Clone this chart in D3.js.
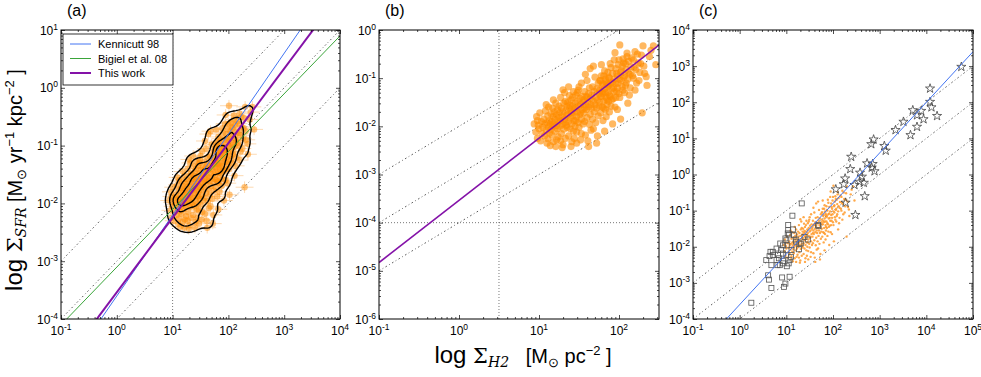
<!DOCTYPE html>
<html>
<head>
<meta charset="utf-8">
<script src="https://d3js.org/d3.v7.min.js"></script>
<style>
  body { margin: 0; background: #fff; }
  text { font-family: "Liberation Sans", Arial, sans-serif; fill: #000; }
</style>
</head>
<body>
<div id="chart"></div>
<script>
var W = 981, H = 377,
    plotTop = 30, plotBottom = 319;

////////////////////////////////////////////////////////////
//////////////////////// Data //////////////////////////////
////////////////////////////////////////////////////////////

// resolved regions: [log Sigma_H2 (Msun/pc2), log Sigma_SFR (Msun/yr/kpc2)]
var regionsLog = [
  [0.94,-1.95],[0.96,-2.12],[0.97,-1.80],[0.98,-2.25],[0.99,-1.98],[1.00,-2.05],[1.01,-1.72],[1.02,-2.30],[1.03,-1.90],[1.04,-2.15],[1.05,-2.02],[0.98,-1.88],
  [1.06,-1.85],[1.07,-2.20],[1.07,-1.95],[1.08,-1.68],[1.09,-2.08],[1.10,-1.92],[1.10,-2.35],[1.11,-1.78],[1.12,-2.02],[1.12,-1.60],[1.13,-2.14],[1.13,-1.88],[1.14,-2.40],[1.14,-1.96],[1.15,-1.74],[1.15,-2.06],[1.09,-1.55],[1.11,-2.26],
  [1.16,-1.90],[1.16,-2.18],[1.17,-1.62],[1.17,-2.00],[1.18,-1.80],[1.18,-2.32],[1.19,-1.95],[1.19,-1.70],[1.20,-2.10],[1.20,-1.85],[1.21,-2.42],[1.21,-1.52],[1.22,-1.98],[1.22,-1.76],[1.23,-2.05],[1.23,-1.66],[1.24,-1.90],[1.24,-2.22],[1.25,-1.82],[1.25,-1.58],[1.18,-1.45],[1.22,-2.28],
  [1.26,-2.00],[1.26,-1.72],[1.27,-1.88],[1.27,-1.40],[1.28,-2.15],[1.28,-1.62],[1.29,-1.95],[1.29,-1.80],[1.30,-2.38],[1.30,-1.70],[1.31,-1.52],[1.31,-2.06],[1.32,-1.85],[1.32,-1.30],[1.33,-1.92],[1.33,-2.25],[1.34,-1.66],[1.34,-1.78],[1.35,-2.02],[1.35,-1.58],[1.27,-2.30],[1.30,-1.24],[1.33,-1.48],[1.29,-2.44],[1.34,-1.98],
  [1.36,-1.75],[1.36,-1.50],[1.37,-1.90],[1.37,-2.20],[1.38,-1.62],[1.38,-1.36],[1.39,-1.82],[1.39,-2.05],[1.40,-1.70],[1.40,-1.45],[1.41,-1.95],[1.41,-2.32],[1.42,-1.58],[1.42,-1.78],[1.43,-1.28],[1.43,-2.10],[1.44,-1.66],[1.44,-1.88],[1.45,-1.52],[1.45,-2.00],[1.37,-1.18],[1.40,-2.42],[1.42,-1.40],[1.44,-2.25],[1.39,-1.56],[1.41,-1.72],
  [1.46,-1.62],[1.46,-1.35],[1.47,-1.80],[1.47,-2.12],[1.48,-1.48],[1.48,-1.70],[1.49,-1.92],[1.49,-1.25],[1.50,-1.58],[1.50,-2.02],[1.51,-1.42],[1.51,-1.76],[1.52,-2.28],[1.52,-1.55],[1.53,-1.10],[1.53,-1.85],[1.54,-1.65],[1.54,-1.38],[1.55,-1.95],[1.55,-1.50],[1.47,-2.35],[1.50,-1.18],[1.52,-1.72],[1.48,-1.30],[1.53,-2.15],[1.46,-1.88],
  [1.56,-1.45],[1.56,-1.72],[1.57,-1.28],[1.57,-1.90],[1.58,-1.55],[1.58,-2.18],[1.59,-1.38],[1.59,-1.65],[1.60,-1.05],[1.60,-1.82],[1.61,-1.50],[1.61,-2.30],[1.62,-1.32],[1.62,-1.60],[1.63,-1.96],[1.63,-1.20],[1.64,-1.75],[1.64,-1.42],[1.65,-2.08],[1.65,-1.55],[1.58,-0.92],[1.60,-1.40],[1.62,-2.42],[1.57,-1.62],[1.64,-0.80],
  [1.66,-1.35],[1.66,-1.62],[1.67,-1.18],[1.67,-1.85],[1.68,-1.48],[1.68,-2.05],[1.69,-1.28],[1.69,-1.70],[1.70,-0.98],[1.70,-1.55],[1.71,-1.40],[1.71,-1.92],[1.72,-1.22],[1.72,-1.62],[1.73,-2.20],[1.73,-1.45],[1.74,-1.10],[1.74,-1.78],[1.75,-1.32],[1.75,-1.58],[1.68,-0.75],[1.72,-2.35],
  [1.76,-1.25],[1.76,-1.50],[1.77,-1.05],[1.77,-1.72],[1.78,-1.38],[1.78,-0.72],[1.79,-1.60],[1.79,-1.15],[1.80,-1.88],[1.80,-1.32],[1.81,-0.95],[1.81,-1.48],[1.82,-2.10],[1.82,-1.22],[1.83,-1.65],[1.83,-1.02],[1.84,-1.40],[1.84,-1.80],[1.85,-1.12],[1.85,-1.55],
  [1.86,-1.30],[1.86,-0.88],[1.87,-1.48],[1.87,-1.15],[1.88,-1.70],[1.88,-1.00],[1.89,-1.38],[1.90,-0.78],[1.90,-1.58],[1.91,-1.22],[1.92,-1.95],[1.92,-1.08],[1.93,-1.42],[1.94,-0.62],[1.94,-1.28],[1.95,-0.47],
  [1.96,-1.12],[1.96,-1.40],[1.97,-0.90],[1.98,-1.65],[1.98,-1.20],[1.99,-0.72],[2.00,-1.32],[2.01,-0.31],[2.01,-1.02],[2.02,-1.85],[2.03,-0.85],[2.04,-1.18],[2.05,-0.60],
  [2.06,-0.98],[2.07,-1.30],[2.08,-0.70],[2.09,-1.10],[2.10,-0.55],[2.11,-1.52],[2.12,-0.88],[2.14,-1.20],[2.15,-0.76],
  [2.17,-0.95],[2.18,-0.62],[2.20,-1.25],[2.21,-0.82],[2.23,-0.50],[2.25,-1.05],
  [2.27,-0.70],[2.29,-1.72],[2.30,-0.33],[2.32,-0.90],[2.34,-0.97],[2.38,-0.55],[2.43,-0.33],[2.46,-0.72],
  [1.76,-1.05],[1.77,-1.38],[1.78,-0.95],[1.79,-1.28],[1.80,-1.12],[1.81,-1.62],[1.82,-0.85],[1.83,-1.30],[1.84,-1.08],[1.85,-1.45],
  [1.86,-1.18],[1.87,-0.98],[1.88,-1.35],[1.89,-0.70],[1.90,-1.10],[1.91,-1.45],[1.92,-0.90],[1.93,-1.20],[1.94,-1.02],[1.95,-1.60],
  [1.96,-0.80],[1.97,-1.28],[1.98,-0.95],[1.99,-1.10],[2.00,-0.62],[2.01,-1.40],[2.02,-0.88],[2.03,-1.05],[2.04,-0.75],[2.05,-1.25],
  [2.06,-0.68],[2.07,-0.95],[2.08,-1.15],[2.09,-0.82],[2.10,-0.48],[2.11,-1.02],[2.12,-0.65],[2.13,-1.35],[2.14,-0.92],[2.16,-0.58],
  [2.18,-1.00],[2.19,-0.78],[2.20,-0.45],[2.22,-1.10],[2.24,-0.68],[2.26,-0.88],[2.28,-0.52],[2.31,-0.75],[2.35,-1.15],[2.40,-0.42]
];

// typical uncertainties (dex) for the error bars of panel (a)
var errLogH2 = 0.16, errLogSFR = 0.1;

// other galaxies (panel c), open squares
var squaresLog = [
  [1.33,-0.80],[1.13,-1.14],[1.04,-1.54],[1.06,-1.66],[0.98,-1.77],[1.21,-1.86],[1.28,-1.91],[1.68,-1.40],[1.39,-1.73],
  [0.93,-1.96],[0.89,-2.09],[0.71,-2.14],[0.82,-2.23],[1.00,-2.23],[1.11,-2.09],[1.07,-2.37],[0.93,-2.39],[0.79,-2.37],
  [0.64,-2.26],[0.57,-2.37],[0.68,-2.51],[0.86,-2.51],[1.01,-2.54],[0.61,-2.79],[0.63,-2.91],[0.91,-2.85],[1.07,-2.83],
  [0.98,-3.02],[0.95,-3.11],[0.68,-3.14],[0.25,-3.55],[1.02,-1.96],[1.20,-1.80],[1.31,-1.91],[1.69,-1.43],[1.16,-1.68],
  [1.14,-1.52],[1.04,-1.40],[1.03,-1.63],[0.87,-1.91],[0.79,-2.05],[0.66,-2.14],[0.71,-2.23],[0.84,-2.32],[0.93,-2.19],
  [1.10,-2.28],[1.05,-2.46],[0.93,-2.46],[0.81,-2.51],[1.00,-1.82],[1.46,-1.80],[1.27,-2.07]
];

// starbursts (panel c), open stars
var starsLog = [
  [4.75,2.98],[4.08,2.38],[4.08,2.01],[4.11,1.86],[4.23,1.62],[3.71,1.78],[3.89,1.76],[3.80,1.64],[3.94,1.53],
  [3.80,1.32],[3.66,1.09],[3.51,1.46],[3.34,1.23],[2.87,0.97],[2.82,0.84],[3.10,0.79],[3.13,0.66],[2.73,0.31],
  [2.85,0.29],[2.83,0.19],[2.89,0.09],[2.58,0.05],[2.62,-0.06],[2.57,-0.20],[2.66,-0.23],[2.68,-0.60],[2.39,0.49],
  [2.37,0.15],[2.26,-0.11],[2.23,-0.27],[2.46,-0.29],[2.06,-0.41],[2.27,-0.78],[2.48,-1.12]
];

// Sigma_SFR = coef * Sigma_H2^slope
var relations = [
  {name: "Kennicutt 98",      coef: 2.5e-4, slope: 1.4,  color: "#4274f2", width: 1},
  {name: "Bigiel et al. 08",  coef: 7.9e-4, slope: 1.0,  color: "#3aa53a", width: 1},
  {name: "This work",         coef: 2.9e-4, slope: 1.29, color: "#8412a8", width: 2}
];
// constant depletion time lines: Sigma_SFR = coef * Sigma_H2  (1e8, 1e9, 1e10 yr)
var depletionCoef = [1e-2, 1e-3, 1e-4];
// reference cuts in panel (b)
var cutH2 = 3.16, cutSFR = 1e-4;

////////////////////////////////////////////////////////////
//////////////////////// Layout ////////////////////////////
////////////////////////////////////////////////////////////

var panels = [
  {name: "(a)", left: 61,  right: 340, xDomain: [1e-1, 1e4],   yDomain: [1e-4, 1e1]},
  {name: "(b)", left: 379, right: 659, xDomain: [1e-1, 316.2], yDomain: [1e-6, 1e0]},
  {name: "(c)", left: 693, right: 973, xDomain: [1e-1, 1e5],   yDomain: [1e-4, 1e4]}
];
panels.forEach(function(p) {
  p.x = d3.scaleLog().domain(p.xDomain).range([p.left, p.right]);
  p.y = d3.scaleLog().domain(p.yDomain).range([plotBottom, plotTop]);
});

var orange = "#ff8c00";

var svg = d3.select("#chart").append("svg")
  .attr("width", W)
  .attr("height", H);

var defs = svg.append("defs");
panels.forEach(function(p, i) {
  defs.append("clipPath").attr("id", "clip" + i)
    .append("rect")
    .attr("x", p.left).attr("y", plotTop)
    .attr("width", p.right - p.left).attr("height", plotBottom - plotTop);
});

function decades(dom) {
  var out = [];
  for (var e = Math.ceil(Math.log10(dom[0]) - 1e-9); e <= Math.floor(Math.log10(dom[1]) + 1e-9); e++) out.push(Math.pow(10, e));
  return out;
}
function minors(dom) {
  var out = [];
  for (var e = Math.floor(Math.log10(dom[0])); e <= Math.ceil(Math.log10(dom[1])); e++)
    for (var k = 2; k < 10; k++) {
      var v = k * Math.pow(10, e);
      if (v > dom[0] && v < dom[1]) out.push(v);
    }
  return out;
}

function powerLine(p, coef, slope) {
  var pts = p.xDomain.map(function(x) { return [x, coef * Math.pow(x, slope)]; });
  return d3.line().x(function(d) { return p.x(d[0]); }).y(function(d) { return p.y(d[1]); })(pts);
}

function pow10(v) { return Math.pow(10, v); }

////////////////////////////////////////////////////////////
/////////////////////// Panels /////////////////////////////
////////////////////////////////////////////////////////////

panels.forEach(function(p, i) {
  var g = svg.append("g").attr("class", "panel");
  var plot = g.append("g").attr("clip-path", "url(#clip" + i + ")");

  // depletion time lines
  depletionCoef.forEach(function(c) {
    plot.append("path")
      .attr("d", powerLine(p, c, 1))
      .attr("fill", "none")
      .attr("stroke", "#444")
      .attr("stroke-width", 0.9)
      .attr("stroke-dasharray", "1.6,2.6,0.8,2.6");
  });

  if (i === 0) {
    plot.append("line")
      .attr("x1", p.x(10)).attr("x2", p.x(10))
      .attr("y1", plotTop).attr("y2", plotBottom)
      .attr("stroke", "#555").attr("stroke-width", 0.8).attr("stroke-dasharray", "1,2");

    // error bars
    var eb = plot.append("g").attr("stroke", "#fdb86a").attr("stroke-width", 1).attr("opacity", 0.5);
    eb.selectAll("line.ex").data(regionsLog).enter().append("line")
      .attr("x1", function(d) { return p.x(pow10(d[0] - errLogH2)); })
      .attr("x2", function(d) { return p.x(pow10(d[0] + errLogH2)); })
      .attr("y1", function(d) { return p.y(pow10(d[1])); })
      .attr("y2", function(d) { return p.y(pow10(d[1])); });
    eb.selectAll("line.ey").data(regionsLog).enter().append("line")
      .attr("x1", function(d) { return p.x(pow10(d[0])); })
      .attr("x2", function(d) { return p.x(pow10(d[0])); })
      .attr("y1", function(d) { return p.y(pow10(d[1] - errLogSFR)); })
      .attr("y2", function(d) { return p.y(pow10(d[1] + errLogSFR)); });

    plot.append("g").selectAll("circle").data(regionsLog).enter().append("circle")
      .attr("cx", function(d) { return p.x(pow10(d[0])); })
      .attr("cy", function(d) { return p.y(pow10(d[1])); })
      .attr("r", 3.2)
      .attr("fill", orange)
      .attr("opacity", 0.5);

    // density contours
    var density = d3.contourDensity()
      .x(function(d) { return p.x(pow10(d[0])); })
      .y(function(d) { return p.y(pow10(d[1])); })
      .size([W, H])
      .cellSize(3)
      .bandwidth(3.5);
    var maxV = d3.max(density.thresholds(60)(regionsLog), function(c) { return c.value; });
    var contours = density.thresholds([0.15, 0.4, 0.62, 0.84].map(function(f) { return f * maxV; }))(regionsLog);
    plot.append("g").selectAll("path").data(contours).enter().append("path")
      .attr("d", d3.geoPath())
      .attr("fill", "none")
      .attr("stroke", "#000")
      .attr("stroke-width", 1.4)
      .attr("stroke-linejoin", "round");

    relations.forEach(function(r) {
      plot.append("path")
        .attr("d", powerLine(p, r.coef, r.slope))
        .attr("fill", "none")
        .attr("stroke", r.color)
        .attr("stroke-width", r.width);
    });

    // legend
    var lg = g.append("g").attr("transform", "translate(" + (p.left + 2) + "," + (plotTop + 4) + ")");
    lg.append("rect").attr("width", 110).attr("height", 51)
      .attr("fill", "#fff").attr("stroke", "#000").attr("stroke-width", 0.8);
    relations.forEach(function(r, k) {
      var yy = 10 + k * 14.5;
      lg.append("line").attr("x1", 7).attr("x2", 28).attr("y1", yy).attr("y2", yy)
        .attr("stroke", r.color).attr("stroke-width", r.width);
      lg.append("text").attr("x", 35).attr("y", yy + 4).attr("font-size", 11).text(r.name);
    });
  }

  if (i === 1) {
    plot.append("line")
      .attr("x1", p.x(cutH2)).attr("x2", p.x(cutH2))
      .attr("y1", plotTop).attr("y2", plotBottom)
      .attr("stroke", "#555").attr("stroke-width", 0.8).attr("stroke-dasharray", "1,2");
    plot.append("line")
      .attr("x1", p.left).attr("x2", p.right)
      .attr("y1", p.y(cutSFR)).attr("y2", p.y(cutSFR))
      .attr("stroke", "#555").attr("stroke-width", 0.8).attr("stroke-dasharray", "1,2");

    plot.append("g").selectAll("circle").data(regionsLog).enter().append("circle")
      .attr("cx", function(d) { return p.x(pow10(d[0])); })
      .attr("cy", function(d) { return p.y(pow10(d[1])); })
      .attr("r", 3.6)
      .attr("fill", orange)
      .attr("opacity", 0.62);

    plot.append("path")
      .attr("d", powerLine(p, relations[2].coef, relations[2].slope))
      .attr("fill", "none")
      .attr("stroke", relations[2].color)
      .attr("stroke-width", 1.6);
  }

  if (i === 2) {
    plot.append("g").selectAll("circle").data(regionsLog).enter().append("circle")
      .attr("cx", function(d) { return p.x(pow10(d[0])); })
      .attr("cy", function(d) { return p.y(pow10(d[1])); })
      .attr("r", 1.2)
      .attr("fill", "#ff9a2a")
      .attr("opacity", 0.85);

    plot.append("g").selectAll("rect").data(squaresLog).enter().append("rect")
      .attr("x", function(d) { return p.x(pow10(d[0])) - 2.5; })
      .attr("y", function(d) { return p.y(pow10(d[1])) - 2.5; })
      .attr("width", 5).attr("height", 5)
      .attr("fill", "none")
      .attr("stroke", "#555")
      .attr("stroke-width", 0.8);

    var star = d3.symbol().type(d3.symbolStar).size(26);
    plot.append("g").selectAll("path").data(starsLog).enter().append("path")
      .attr("d", star)
      .attr("transform", function(d) { return "translate(" + p.x(pow10(d[0])) + "," + p.y(pow10(d[1])) + ")"; })
      .attr("fill", "none")
      .attr("stroke", "#444")
      .attr("stroke-width", 0.8);

    plot.append("path")
      .attr("d", powerLine(p, relations[0].coef, relations[0].slope))
      .attr("fill", "none")
      .attr("stroke", relations[0].color)
      .attr("stroke-width", 1);
  }

  // ticks on all four sides, pointing inwards
  function ticks(axisGen, scale, tr, values, size) {
    g.append("g").attr("transform", tr)
      .call(axisGen(scale).tickValues(values).tickSize(-size).tickFormat(""))
      .call(function(s) { s.select(".domain").remove(); s.selectAll("line").attr("stroke", "#000").attr("stroke-width", 0.7); });
  }
  [[decades(p.xDomain), 4], [minors(p.xDomain), 2]].forEach(function(t) {
    ticks(d3.axisBottom, p.x, "translate(0," + plotBottom + ")", t[0], t[1]);
    ticks(d3.axisTop, p.x, "translate(0," + plotTop + ")", t[0], t[1]);
  });
  [[decades(p.yDomain), 4], [minors(p.yDomain), 2]].forEach(function(t) {
    ticks(d3.axisLeft, p.y, "translate(" + p.left + ",0)", t[0], t[1]);
    ticks(d3.axisRight, p.y, "translate(" + p.right + ",0)", t[0], t[1]);
  });

  g.append("rect")
    .attr("x", p.left).attr("y", plotTop)
    .attr("width", p.right - p.left).attr("height", plotBottom - plotTop)
    .attr("fill", "none").attr("stroke", "#000").attr("stroke-width", 1);

  // tick labels 10^n
  decades(p.xDomain).forEach(function(v) {
    var t = g.append("text").attr("x", p.x(v)).attr("y", 335)
      .attr("text-anchor", "middle").attr("font-size", 12);
    t.append("tspan").text("10");
    t.append("tspan").attr("dy", -5).attr("font-size", 8.5).text(Math.round(Math.log10(v)));
  });
  decades(p.yDomain).forEach(function(v) {
    var t = g.append("text").attr("x", p.left - 3).attr("y", p.y(v) + 4.5)
      .attr("text-anchor", "end").attr("font-size", 12);
    t.append("tspan").text("10");
    t.append("tspan").attr("dy", -5).attr("font-size", 8.5).text(Math.round(Math.log10(v)));
  });

  g.append("text")
    .attr("x", p.left + 6).attr("y", 16)
    .attr("font-size", 16)
    .text(p.name);
});

////////////////////////////////////////////////////////////
//////////////////////// Labels ////////////////////////////
////////////////////////////////////////////////////////////

var serif = "'DejaVu Serif', 'Liberation Serif', serif";

var xl = svg.append("text")
  .attr("x", 523).attr("y", 363)
  .attr("text-anchor", "middle");
xl.append("tspan").attr("font-size", 24).text("log ");
xl.append("tspan").attr("font-size", 21).attr("font-family", serif).text("Σ");
xl.append("tspan").attr("font-size", 14).attr("font-family", serif).attr("font-style", "italic").attr("dy", 4).text("H2");
xl.append("tspan").attr("font-size", 20).attr("dy", -4).attr("xml:space", "preserve").text("   [M");
xl.append("tspan").attr("font-size", 13).attr("dy", 4).text("⊙");
xl.append("tspan").attr("font-size", 20).attr("dy", -4).text(" pc");
xl.append("tspan").attr("font-size", 13).attr("dy", -8).text("−2");
xl.append("tspan").attr("font-size", 20).attr("dy", 8).text(" ]");

var yl = svg.append("text")
  .attr("transform", "translate(22,180) rotate(-90)")
  .attr("text-anchor", "middle");
yl.append("tspan").attr("font-size", 24).text("log ");
yl.append("tspan").attr("font-size", 21).attr("font-family", serif).text("Σ");
yl.append("tspan").attr("font-size", 14).attr("font-family", serif).attr("font-style", "italic").attr("dy", 4).text("SFR");
yl.append("tspan").attr("font-size", 20).attr("dy", -4).text(" [M");
yl.append("tspan").attr("font-size", 13).attr("dy", 4).text("⊙");
yl.append("tspan").attr("font-size", 20).attr("dy", -4).text(" yr");
yl.append("tspan").attr("font-size", 13).attr("dy", -8).text("−1");
yl.append("tspan").attr("font-size", 20).attr("dy", 8).text(" kpc");
yl.append("tspan").attr("font-size", 13).attr("dy", -8).text("−2");
yl.append("tspan").attr("font-size", 20).attr("dy", 8).text(" ]");
</script>
</body>
</html>
